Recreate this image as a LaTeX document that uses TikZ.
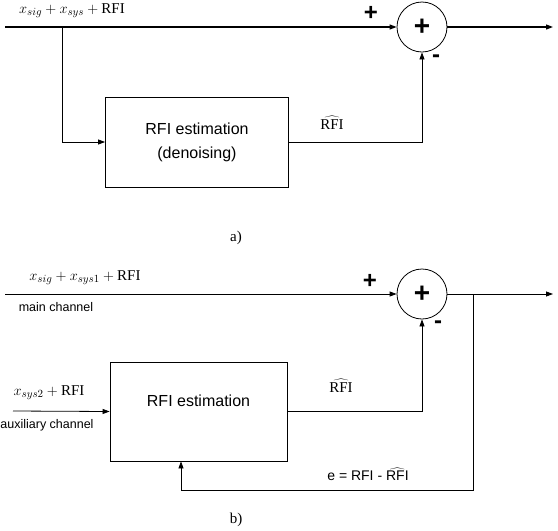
\documentclass[tikz,border=0pt]{standalone}
\usepackage{fontspec}
\setmainfont{Liberation Serif}
\newfontfamily\arial{Liberation Sans}
\usetikzlibrary{arrows.meta}
\tikzset{
  sumnode/.style={draw, circle, minimum size=50pt, inner sep=0pt},
  estbox/.style={draw, rectangle, align=center, font=\arial\fontsize{16}{24}\selectfont},
  flow/.style={-{Triangle[length=7pt,width=5pt]}},
  sig/.style={font=\fontsize{15}{17}\selectfont},
  chan/.style={font=\arial\fontsize{12.5}{14}\selectfont},
  sign/.style={font=\arial\bfseries\fontsize{24}{24}\selectfont},
  partlabel/.style={font=\fontsize{15}{17}\selectfont},
}
\begin{document}
\begin{tikzpicture}[x=1pt, y=-1pt, line width=0.8pt]
    \useasboundingbox (0,0) rectangle (558,531);
    % a) single channel
    \coordinate (inA) at (5,27);
    \coordinate (splitA) at (62,27);
    \coordinate (outA) at (553,27);
    \node[sumnode] (sumA) at (422,27) {};
    \node[sign, font=\arial\bfseries\fontsize{28}{28}\selectfont] (plusA) at (sumA) {+};
    \node[estbox, minimum width=183pt, minimum height=90pt] (estA) at (197,142) {RFI estimation\\(denoising)};
    \draw[flow, line width=1.2pt] (inA) -- (sumA.west);
    \draw[flow, line width=1.2pt] (sumA.east) -- (outA);
    \draw[flow] (splitA) |- (estA.west);
    \draw[flow] (estA.east) -| (sumA.south);
    \node[sig] (sigA) at (72,11) {$x_{sig} + x_{sys} + \mathrm{RFI}$};
    \node[sign] (posA) at (371,13) {+};
    \node[sign] (negA) at (436,59) {-};
    \node[sig] (hatA) at (332,123) {$\widehat{\mathrm{RFI}}$};
    \node[partlabel] (capA) at (236,238) {a)};
    % b) main and auxiliary channel
    \coordinate (inB) at (5,294);
    \coordinate (splitB) at (473,294);
    \coordinate (outB) at (553,294);
    \coordinate (auxB) at (13,411);
    \coordinate (fbB) at (181,490);
    \node[sumnode] (sumB) at (422,294) {};
    \node[sign, font=\arial\bfseries\fontsize{28}{28}\selectfont] (plusB) at (sumB) {+};
    \node[estbox, minimum width=177pt, minimum height=99pt, text depth=0pt] (estB) at (198.5,411.5) {\raisebox{22pt}{RFI estimation}};
    \draw[flow] (inB) -- (sumB.west);
    \draw[flow] (sumB.east) -- (outB);
    \draw[flow] (auxB) -- (estB.west);
    \draw[flow] (estB.east) -| (sumB.south);
    \draw[flow] (splitB) |- (fbB) -- (fbB |- estB.south);
    \node[sig] (sigB) at (85,278) {$x_{sig} + x_{sys1} + \mathrm{RFI}$};
    \node[chan] (mainB) at (56,307) {main channel};
    \node[sig] (sysB) at (49,393) {$x_{sys2} + \mathrm{RFI}$};
    \node[chan] (auxlabB) at (47,425) {auxiliary channel};
    \node[sign] (posB) at (370,281) {+};
    \node[sign] (negB) at (438,325) {-};
    \node[sig] (hatB) at (341,386) {$\widehat{\mathrm{RFI}}$};
    \node[chan, font=\arial\fontsize{14}{16}\selectfont] (errB) at (368,474) {e = RFI - $\widehat{\hbox{\arial RFI}}$};
    \node[partlabel] (capB) at (236,520) {b)};
\end{tikzpicture}
\end{document}
